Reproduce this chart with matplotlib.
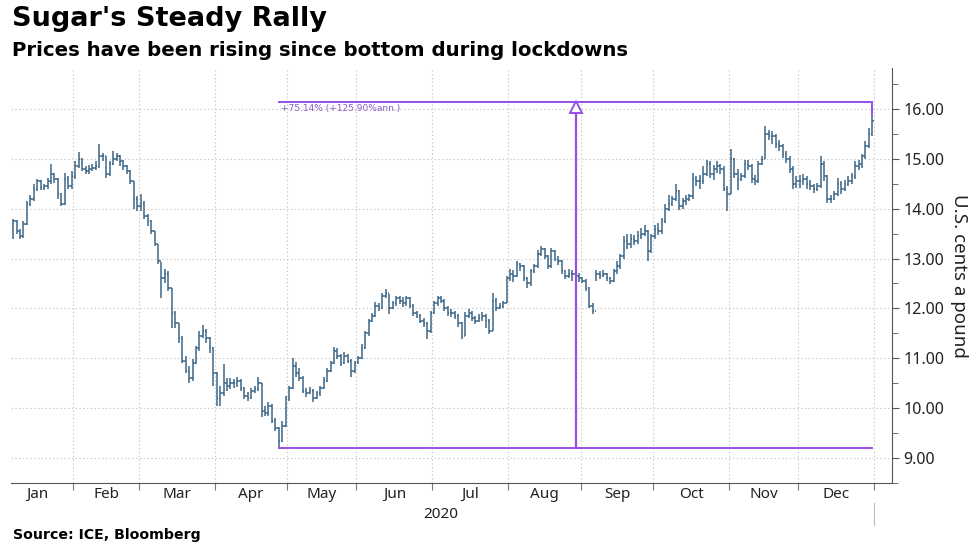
import numpy as np
import pandas as pd
import matplotlib
matplotlib.use("Agg")
import matplotlib.pyplot as plt

# ICE sugar #11, daily bars (U.S. cents a pound), Jan 7 - Dec 31 2020
close_jan = [13.75, 13.55, 13.45, 13.70, 14.10, 14.20, 14.40, 14.55, 14.42, 14.45, 14.55, 14.70, 14.60, 14.30, 14.10, 14.60, 14.45, 14.65]
high_jan = [13.80, 13.78, 13.60, 13.75, 14.15, 14.28, 14.50, 14.60, 14.58, 14.50, 14.62, 14.90, 14.72, 14.62, 14.32, 14.72, 14.65, 14.75]
low_jan = [13.40, 13.50, 13.40, 13.42, 13.68, 14.05, 14.15, 14.35, 14.38, 14.38, 14.40, 14.50, 14.52, 14.20, 14.05, 14.08, 14.40, 14.40]

close_feb = [14.85, 15.00, 14.80, 14.75, 14.80, 14.82, 14.85, 15.05, 15.05, 14.70, 14.90, 15.00, 15.05, 14.95, 14.85, 14.75, 14.55, 14.20, 14.05]
high_feb = [14.95, 15.13, 15.02, 14.85, 14.88, 14.90, 14.95, 15.30, 15.12, 15.05, 14.95, 15.15, 15.12, 15.08, 14.98, 14.88, 14.78, 14.55, 14.25]
low_feb = [14.60, 14.82, 14.75, 14.70, 14.70, 14.75, 14.78, 14.82, 14.95, 14.62, 14.65, 14.88, 14.95, 14.85, 14.78, 14.70, 14.50, 14.00, 13.95]

close_mar = [14.10, 13.85, 13.75, 13.55, 13.30, 12.95, 12.60, 12.70, 12.40, 11.90, 11.70, 11.40, 10.95, 10.75, 10.60, 10.90, 11.20, 11.45, 11.55, 11.40, 11.20, 10.70]
high_mar = [14.30, 14.15, 13.90, 13.78, 13.55, 13.30, 12.93, 12.80, 12.75, 12.40, 11.95, 11.70, 11.45, 11.05, 10.85, 10.98, 11.25, 11.55, 11.67, 11.58, 11.42, 11.22]
low_mar = [13.95, 13.80, 13.65, 13.50, 13.25, 12.90, 12.20, 12.50, 12.35, 11.60, 11.60, 11.30, 10.90, 10.70, 10.50, 10.55, 10.88, 11.15, 11.40, 11.30, 11.10, 10.45]

close_apr = [10.20, 10.30, 10.50, 10.45, 10.50, 10.50, 10.55, 10.40, 10.25, 10.20, 10.35, 10.38, 10.50, 9.95, 9.90, 10.05, 9.75, 9.60, 9.35, 9.65, 10.20]
high_apr = [10.72, 10.45, 10.88, 10.60, 10.60, 10.58, 10.62, 10.58, 10.42, 10.32, 10.40, 10.45, 10.62, 10.50, 10.05, 10.12, 10.08, 9.80, 9.62, 9.75, 10.25]
low_apr = [10.05, 10.05, 10.25, 10.35, 10.38, 10.40, 10.42, 10.35, 10.18, 10.15, 10.18, 10.30, 10.35, 9.82, 9.85, 9.85, 9.70, 9.55, 9.21, 9.32, 9.62]

close_may = [10.40, 10.85, 10.70, 10.60, 10.35, 10.30, 10.35, 10.20, 10.30, 10.40, 10.55, 10.75, 10.90, 11.15, 11.05, 10.90, 11.05, 10.95, 10.75, 10.90]
high_may = [10.45, 11.00, 10.92, 10.80, 10.65, 10.40, 10.42, 10.38, 10.35, 10.45, 10.62, 10.80, 10.95, 11.22, 11.20, 11.08, 11.12, 11.08, 10.98, 10.95]
low_may = [10.15, 10.38, 10.62, 10.55, 10.30, 10.22, 10.28, 10.12, 10.18, 10.25, 10.38, 10.52, 10.72, 10.88, 10.98, 10.85, 10.88, 10.90, 10.62, 10.70]

close_jun = [11.00, 11.20, 11.50, 11.75, 11.85, 12.05, 12.00, 12.25, 12.30, 12.00, 12.10, 12.20, 12.15, 12.10, 12.20, 12.05, 11.90, 11.85, 11.75, 11.70, 11.55, 11.90]
high_jun = [11.05, 11.28, 11.55, 11.78, 11.90, 12.12, 12.10, 12.30, 12.39, 12.28, 12.15, 12.25, 12.25, 12.22, 12.25, 12.22, 12.08, 11.95, 11.88, 11.80, 11.72, 11.95]
low_jun = [10.88, 10.98, 11.18, 11.45, 11.72, 11.82, 11.95, 11.98, 12.20, 11.88, 11.98, 12.05, 12.08, 12.02, 12.05, 12.00, 11.85, 11.80, 11.70, 11.62, 11.39, 11.50]

close_jul = [12.10, 12.20, 12.15, 12.00, 11.90, 11.90, 11.85, 11.70, 11.45, 11.85, 11.90, 11.80, 11.75, 11.80, 11.85, 11.75, 11.55, 12.15, 12.00, 12.05, 12.10, 12.60]
high_jul = [12.15, 12.25, 12.25, 12.18, 12.05, 11.98, 11.95, 11.88, 11.72, 11.92, 11.98, 11.95, 11.85, 11.88, 11.92, 11.88, 11.78, 12.30, 12.20, 12.10, 12.15, 12.65]
low_jul = [11.88, 12.05, 12.10, 11.95, 11.85, 11.82, 11.78, 11.62, 11.38, 11.45, 11.80, 11.75, 11.68, 11.72, 11.75, 11.60, 11.48, 11.55, 11.95, 11.98, 12.00, 12.10]

close_aug = [12.70, 12.65, 12.90, 12.85, 12.60, 12.50, 12.75, 12.85, 13.10, 13.20, 13.05, 12.85, 13.15, 13.00, 12.95, 12.75, 12.65, 12.70, 12.70, 12.65, 12.60]
high_aug = [12.80, 12.78, 12.95, 12.92, 12.88, 12.62, 12.80, 12.90, 13.18, 13.26, 13.22, 13.08, 13.22, 13.18, 13.05, 12.98, 12.78, 12.80, 12.78, 12.80, 12.72]
low_aug = [12.55, 12.52, 12.62, 12.75, 12.55, 12.40, 12.45, 12.72, 12.82, 13.05, 13.00, 12.80, 12.82, 12.95, 12.88, 12.70, 12.58, 12.60, 12.55, 12.50, 12.52]

close_sep = [12.55, 12.40, 12.05, 11.95, 12.70, 12.65, 12.70, 12.60, 12.55, 12.75, 12.85, 13.05, 13.35, 13.30, 13.40, 13.35, 13.45, 13.50, 13.55, 13.15, 13.45]
high_sep = [12.62, 12.58, 12.42, 12.10, 12.78, 12.75, 12.78, 12.72, 12.62, 12.80, 12.95, 13.10, 13.45, 13.50, 13.50, 13.48, 13.55, 13.62, 13.68, 13.58, 13.50]
low_sep = [12.50, 12.35, 12.00, 11.88, 12.55, 12.58, 12.62, 12.55, 12.48, 12.52, 12.70, 12.80, 13.00, 13.20, 13.22, 13.28, 13.30, 13.40, 13.45, 12.95, 13.12]

close_oct = [13.60, 13.55, 13.75, 14.00, 14.10, 14.20, 14.35, 14.05, 14.15, 14.20, 14.25, 14.60, 14.55, 14.55, 14.70, 14.90, 14.70, 14.80, 14.85, 14.80, 14.40, 14.30]
high_oct = [13.68, 13.72, 13.82, 14.10, 14.28, 14.25, 14.50, 14.38, 14.22, 14.28, 14.30, 14.72, 14.65, 14.68, 14.85, 14.98, 14.95, 14.88, 14.95, 14.90, 14.85, 14.45]
low_oct = [13.40, 13.48, 13.50, 13.72, 13.95, 14.05, 14.15, 13.98, 14.00, 14.08, 14.15, 14.20, 14.45, 14.40, 14.50, 14.65, 14.62, 14.58, 14.72, 14.70, 14.35, 13.95]

close_nov = [15.00, 14.70, 14.60, 14.65, 14.90, 14.85, 14.60, 14.55, 14.90, 15.00, 15.50, 15.45, 15.45, 15.30, 15.25, 15.10, 15.00, 14.80, 14.50, 14.55]
high_nov = [15.20, 15.02, 14.80, 14.72, 14.98, 14.98, 14.90, 14.68, 14.95, 15.05, 15.65, 15.58, 15.55, 15.50, 15.38, 15.30, 15.15, 15.05, 14.85, 14.65]
low_nov = [14.30, 14.62, 14.38, 14.55, 14.62, 14.78, 14.52, 14.48, 14.52, 14.88, 15.00, 15.38, 15.30, 15.22, 15.15, 15.02, 14.92, 14.72, 14.40, 14.42]

close_dec = [14.55, 14.60, 14.50, 14.45, 14.40, 14.45, 14.90, 14.65, 14.20, 14.20, 14.30, 14.50, 14.40, 14.50, 14.55, 14.65, 14.85, 14.90, 15.05, 15.25, 15.50, 15.75]
high_dec = [14.68, 14.70, 14.65, 14.58, 14.50, 14.52, 15.05, 14.95, 14.68, 14.28, 14.35, 14.62, 14.55, 14.58, 14.65, 14.72, 14.95, 14.98, 15.10, 15.35, 15.62, 15.90]
low_dec = [14.42, 14.48, 14.40, 14.38, 14.32, 14.35, 14.42, 14.55, 14.11, 14.12, 14.18, 14.25, 14.30, 14.35, 14.45, 14.50, 14.60, 14.78, 14.82, 15.00, 15.22, 15.45]

first_open = 13.70

# measurement annotation: bottom (Apr 28) to latest high
low_price = 9.21
high_price = 16.13
measure_date = "2020-08-28"
low_date = "2020-04-28"
measure_text = "+75.14% (+125.90%ann.)"

months = ["Jan", "Feb", "Mar", "Apr", "May", "Jun", "Jul", "Aug", "Sep", "Oct", "Nov", "Dec"]
holidays = ["2020-01-20", "2020-02-17", "2020-04-10", "2020-05-25",
            "2020-07-03", "2020-09-07", "2020-11-26", "2020-12-25"]

closes = (close_jan + close_feb + close_mar + close_apr + close_may + close_jun +
          close_jul + close_aug + close_sep + close_oct + close_nov + close_dec)
highs = (high_jan + high_feb + high_mar + high_apr + high_may + high_jun +
         high_jul + high_aug + high_sep + high_oct + high_nov + high_dec)
lows = (low_jan + low_feb + low_mar + low_apr + low_may + low_jun +
        low_jul + low_aug + low_sep + low_oct + low_nov + low_dec)
opens = [first_open] + closes[:-1]

# trading-day axis (Bloomberg spaces bars by session, not calendar day)
days = pd.bdate_range("2020-01-02", "2020-12-31")
days = days[~days.isin(pd.to_datetime(holidays))]
start = list(days).index(pd.Timestamp("2020-01-07"))
x = np.arange(start, start + len(closes))

month_first = [np.where(days.month == m)[0][0] for m in range(1, 13)]
bounds = [i - 0.5 for i in month_first] + [len(days) - 0.5]
mids = [(bounds[i] + bounds[i + 1]) / 2 for i in range(12)]

bar_color = "#3d6686"
purple = "#9650e6"
grid_color = "#c8c8c8"

fig = plt.figure(figsize=(9.8, 5.5), dpi=100)
ax = fig.add_axes([11 / 980, 1 - 483 / 550, (892 - 11) / 980, (483 - 68) / 550])

# grid
for b in bounds[1:]:
    ax.axvline(b, color=grid_color, lw=0.8, ls=(0, (1.2, 2.2)), zorder=0)
for v in range(9, 17):
    ax.axhline(v, color=grid_color, lw=0.8, ls=(0, (1.2, 2.2)), zorder=0)

# OHLC bars
tick_w = 0.45
ax.vlines(x, lows, highs, color=bar_color, lw=1.1, zorder=3)
ax.hlines(opens, x - tick_w, x, color=bar_color, lw=1.1, zorder=3)
ax.hlines(closes, x, x + tick_w, color=bar_color, lw=1.1, zorder=3)

# measurement lines
i_low = list(days).index(pd.Timestamp(low_date))
i_meas = list(days).index(pd.Timestamp(measure_date))
i_last = x[-1]
ax.plot([i_low, i_last], [high_price, high_price], color=purple, lw=1.4, zorder=4)
ax.plot([i_low, i_last], [low_price, low_price], color=purple, lw=1.4, zorder=4)
ax.plot([i_last, i_last], [high_price, highs[-1]], color=purple, lw=1.4, zorder=4)
ax.plot([i_meas, i_meas], [low_price, high_price - 0.15], color=purple, lw=1.6, zorder=4)
ax.plot([i_meas], [high_price - 0.1], marker="^", ms=8, mfc="white", mec=purple, mew=1.4, zorder=5)
ax.text(i_low + 0.6, high_price - 0.04, measure_text, color="#8a5cc8", fontsize=6.5,
        family="DejaVu Sans", ha="left", va="top", zorder=5)

ax.set_xlim(2.4, 257.7)
ax.set_ylim(8.52, 16.82)

# axes styling
for s in ["left", "top"]:
    ax.spines[s].set_visible(False)
ax.spines["right"].set_color("#555555")
ax.spines["bottom"].set_color("#555555")

ax.yaxis.tick_right()
ax.yaxis.set_label_position("right")
ax.set_yticks(range(9, 17))
ax.set_yticklabels([f"{v:.2f}" for v in range(9, 17)], fontsize=11.5, family="Noto Sans", color="#222222")
ax.set_yticks(np.arange(8.5, 17, 1.0), minor=True)
ax.tick_params(axis="y", which="major", length=5, color="#555555", pad=3)
ax.tick_params(axis="y", which="minor", length=4, color="#555555")
ax.set_ylabel("U.S. cents a pound", rotation=270, fontsize=13.5, family="Noto Sans",
              color="#222222", labelpad=17)

ax.set_xticks(bounds[1:])
ax.set_xticklabels([])
ax.set_xticks(mids, minor=True)
ax.set_xticklabels(months, minor=True, fontsize=11, family="Noto Sans", color="#222222")
ax.tick_params(axis="x", which="major", length=5, color="#777777")
ax.tick_params(axis="x", which="minor", length=0, pad=3)

# year label and separator
fig.text(441 / 980, 1 - 514 / 550, "2020", ha="center", va="center", fontsize=11,
         family="Noto Sans", color="#222222")
fig.add_artist(plt.Line2D([874 / 980, 874 / 980], [1 - 503 / 550, 1 - 525 / 550],
                          color="#bbbbbb", lw=0.8))

fig.text(12 / 980, 1 - 19 / 550, "Sugar's Steady Rally", fontsize=19.5, fontweight="bold",
         family="DejaVu Sans", ha="left", va="center")
fig.text(12 / 980, 1 - 51 / 550, "Prices have been rising since bottom during lockdowns",
         fontsize=14.2, fontweight="bold", family="DejaVu Sans", ha="left", va="center")
fig.text(13 / 980, 1 - 535 / 550, "Source: ICE, Bloomberg", fontsize=10.2, fontweight="bold",
         family="DejaVu Sans", ha="left", va="center")

fig.savefig("out.png", dpi=100)
